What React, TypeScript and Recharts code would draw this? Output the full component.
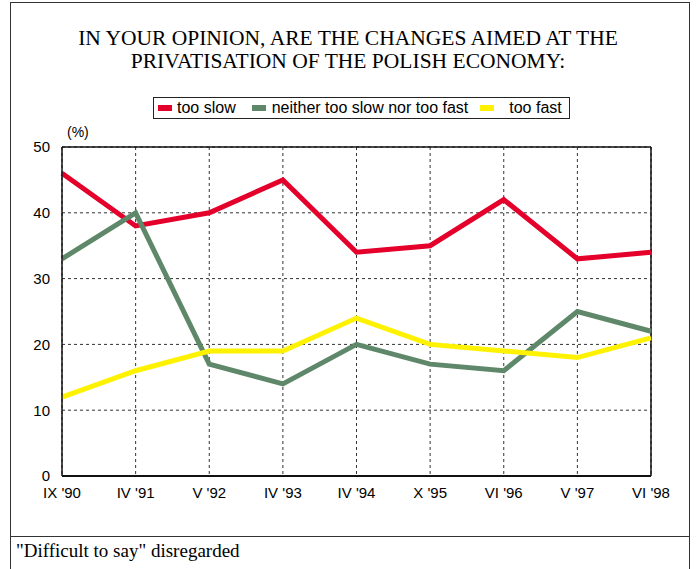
import React from "react"
import { LineChart, Line, XAxis, YAxis, CartesianGrid, ReferenceLine } from "recharts"

const periods = ["IX '90", "IV '91", "V '92", "IV '93", "IV '94", "X '95", "VI '96", "V '97", "VI '98"]
const tooSlow = [46, 38, 40, 45, 34, 35, 42, 33, 34]
const neither = [33, 40, 17, 14, 20, 17, 16, 25, 22]
const tooFast = [12, 16, 19, 19, 24, 20, 19, 18, 21]
const yTicks = [0, 10, 20, 30, 40, 50]

const series = [
  { key: "tooSlow", name: "too slow", color: "#E4002B" },
  { key: "neither", name: "neither too slow nor too fast", color: "#5F886A" },
  { key: "tooFast", name: "too fast", color: "#FFF200" },
]

const data = periods.map((p, i) => ({
  period: p,
  tooSlow: tooSlow[i],
  neither: neither[i],
  tooFast: tooFast[i],
}))

const sans = "'Liberation Sans', Arial, sans-serif"
const serif = "'Liberation Serif', 'Times New Roman', serif"

// gaps before each legend swatch / text
const swatchGap = [4, 16, 12]
const textGap = [5, 6, 15]

export default function App() {
  return (
    <div style={{ position: "absolute", left: 0, top: 0, width: 696, height: 569, background: "#fff", overflow: "hidden", fontFamily: sans }}>
      {/* outer frame */}
      <div style={{ position: "absolute", left: 10, top: 2, width: 678, height: 600, border: "1px solid #333" }} />
      <div style={{ position: "absolute", left: 10, top: 536, width: 679, height: 1, background: "#333" }} />

      <div style={{ position: "absolute", left: 0, top: 27, width: 696, textAlign: "center", fontFamily: serif, fontSize: 21.5, lineHeight: "23px", color: "#000" }}>
        IN YOUR OPINION, ARE THE CHANGES AIMED AT THE
        <br />
        PRIVATISATION OF THE POLISH ECONOMY:
      </div>

      <div style={{ position: "absolute", left: 153, top: 97, width: 415, height: 20, border: "1.5px solid #222", display: "flex", alignItems: "center", fontSize: 16, color: "#000" }}>
        {series.map((s, i) => (
          <span key={s.key} style={{ display: "flex", alignItems: "center", marginLeft: swatchGap[i] }}>
            <span style={{ display: "inline-block", width: 14, height: 6, background: s.color, marginRight: textGap[i] }} />
            {s.name}
          </span>
        ))}
      </div>

      <div style={{ position: "absolute", left: 67, top: 124, fontSize: 14, color: "#000" }}>(%)</div>

      <div style={{ position: "absolute", left: 0, top: 0 }}>
        <LineChart width={696} height={569} data={data} margin={{ top: 147, right: 45, bottom: 63, left: 22 }}>
          <CartesianGrid stroke="#333" strokeDasharray="3 3" />
          <XAxis
            dataKey="period"
            height={30}
            axisLine={{ stroke: "#111", strokeWidth: 2 }}
            tickLine={false}
            tick={{ fill: "#000", fontSize: 15 }}
            tickMargin={5}
            interval={0}
          />
          <YAxis
            domain={[0, 50]}
            ticks={yTicks}
            width={40}
            axisLine={{ stroke: "#111", strokeWidth: 1.5 }}
            tickLine={false}
            tick={{ fill: "#000", fontSize: 15 }}
            tickMargin={6}
          />
          <ReferenceLine y={50} stroke="#111" strokeWidth={1.5} />
          <ReferenceLine x="VI '98" stroke="#111" strokeWidth={1.5} />
          {series.map((s) => (
            <Line
              key={s.key}
              dataKey={s.key}
              name={s.name}
              stroke={s.color}
              strokeWidth={5}
              dot={false}
              type="linear"
              strokeLinejoin="miter"
              isAnimationActive={false}
            />
          ))}
        </LineChart>
      </div>

      <div style={{ position: "absolute", left: 16, top: 540, fontFamily: serif, fontSize: 19, color: "#000" }}>
        "Difficult to say" disregarded
      </div>
    </div>
  )
}
